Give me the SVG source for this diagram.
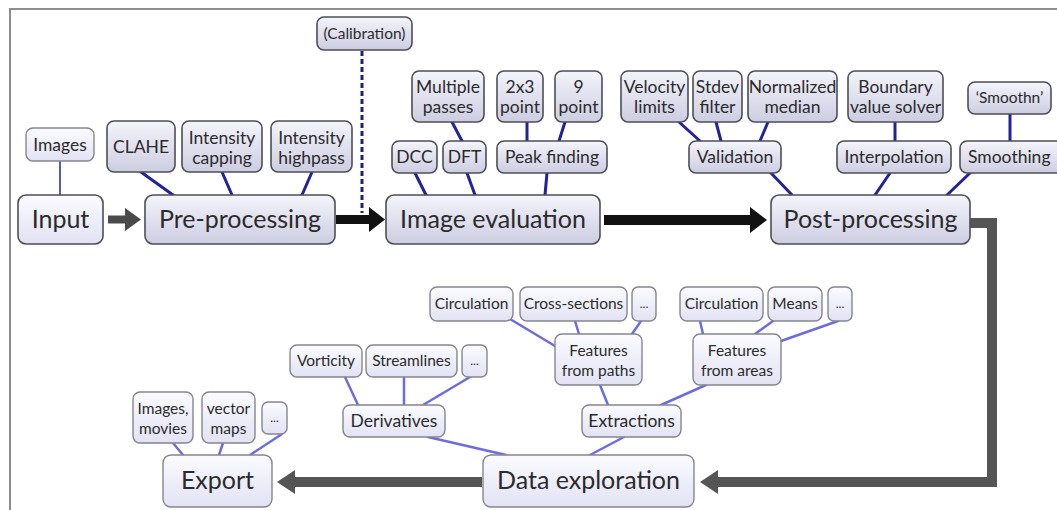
<svg xmlns="http://www.w3.org/2000/svg" width="1057" height="510" viewBox="0 0 1057 510">
<defs>
<linearGradient id="gDark" x1="0" y1="0" x2="0" y2="1"><stop offset="0" stop-color="#f4f4fb"/><stop offset="1" stop-color="#cdcde2"/></linearGradient>
<linearGradient id="gLight" x1="0" y1="0" x2="0" y2="1"><stop offset="0" stop-color="#fbfbff"/><stop offset="1" stop-color="#e2e2f4"/></linearGradient>
<style>
.n rect{fill:url(#gDark);stroke:#4e4e56;stroke-width:1.6}
.l rect{fill:url(#gLight);stroke:#85858f;stroke-width:1.4}
text{font-family:Lato,"Open Sans","Liberation Sans",sans-serif;fill:#2b2b2b;text-anchor:middle}
.big{font-size:25px}
.med{font-size:17.5px}
.sm{font-size:15.5px}
.dot{font-size:12px}
.cd{stroke:#22229a;stroke-width:3;fill:none;stroke-linecap:round}
.cl{stroke:#6c6ce0;stroke-width:2.5;fill:none;stroke-linecap:round}
</style>
</defs>
<rect width="1057" height="510" fill="#ffffff"/>
<path d="M10,510 V9 H1057" fill="none" stroke="#8e8e8e" stroke-width="2"/>

<g id="connectors">
<line class="cl" x1="60" y1="161" x2="60" y2="195" style="stroke:#5656d2;stroke-width:2"/>
<line class="cd" x1="141" y1="172" x2="173" y2="195"/>
<line class="cd" x1="222" y1="172" x2="232" y2="195"/>
<line class="cd" x1="312" y1="172" x2="302" y2="195"/>
<line class="cd" x1="452" y1="122" x2="462" y2="141"/>
<line class="cd" x1="527" y1="122" x2="527" y2="141"/>
<line class="cd" x1="565" y1="122" x2="559" y2="141"/>
<line class="cd" x1="415" y1="173" x2="426" y2="195"/>
<line class="cd" x1="467" y1="173" x2="475" y2="195"/>
<line class="cd" x1="547" y1="173" x2="545" y2="195"/>
<line class="cd" x1="679" y1="122" x2="700" y2="141"/>
<line class="cd" x1="716" y1="122" x2="721" y2="141"/>
<line class="cd" x1="768" y1="122" x2="760" y2="141"/>
<line class="cd" x1="771" y1="173" x2="792" y2="195"/>
<line class="cd" x1="895" y1="122" x2="895" y2="141"/>
<line class="cd" x1="890" y1="173" x2="875" y2="195"/>
<line class="cd" x1="1010" y1="114" x2="1010" y2="141"/>
<line class="cd" x1="970" y1="173" x2="947" y2="195"/>
<line x1="362" y1="51" x2="362" y2="213" stroke="#1e1e8c" stroke-width="3" stroke-dasharray="5 3"/>

<line class="cl" x1="173" y1="443" x2="183" y2="455"/>
<line class="cl" x1="223" y1="443" x2="219" y2="455"/>
<line class="cl" x1="282" y1="434" x2="250" y2="455"/>
<line class="cl" x1="345" y1="377" x2="358" y2="405"/>
<line class="cl" x1="404" y1="377" x2="404" y2="405"/>
<line class="cl" x1="470" y1="377" x2="423" y2="405"/>
<line class="cl" x1="428" y1="437" x2="506" y2="455"/>
<line class="cl" x1="510" y1="319" x2="555" y2="346"/>
<line class="cl" x1="575" y1="321" x2="579" y2="334"/>
<line class="cl" x1="641" y1="321" x2="632" y2="334"/>
<line class="cl" x1="700" y1="321" x2="703" y2="334"/>
<line class="cl" x1="773" y1="321" x2="755" y2="334"/>
<line class="cl" x1="838" y1="321" x2="781" y2="341"/>
<line class="cl" x1="600" y1="385" x2="608" y2="405"/>
<line class="cl" x1="706" y1="385" x2="661" y2="405"/>
<line class="cl" x1="624" y1="437" x2="590" y2="455"/>

<line x1="108" y1="219.5" x2="126" y2="219.5" stroke="#4a4a4a" stroke-width="8"/>
<polygon points="125,208 141,219.5 125,231" fill="#4a4a4a"/>
<line x1="336" y1="219.5" x2="370" y2="219.5" stroke="#111" stroke-width="9"/>
<polygon points="369,207 385,219.5 369,232" fill="#111"/>
<line x1="604" y1="220" x2="752" y2="220" stroke="#111" stroke-width="10"/>
<polygon points="750,207 767,220 750,233" fill="#111"/>
<path d="M970,223 H992 V482 H716" fill="none" stroke="#555555" stroke-width="10"/>
<polygon points="718,470 700,482 718,494" fill="#555555"/>
<line x1="482" y1="482" x2="292" y2="482" stroke="#555555" stroke-width="10"/>
<polygon points="295,470 277,482 295,494" fill="#555555"/>
</g>

<g id="n-calibration" class="n"><rect x="317" y="17" width="95" height="33" rx="7"/><text class="sm" x="364.5" y="39">(Calibration)</text></g>
<g id="n-images" class="l"><rect x="26" y="128" width="68" height="33" rx="7"/><text class="med" x="60" y="151">Images</text></g>
<g id="n-clahe" class="n"><rect x="107" y="121" width="68" height="51" rx="7"/><text class="med" x="141" y="153">CLAHE</text></g>
<g id="n-icap" class="n"><rect x="182" y="121" width="80" height="51" rx="7"/><text class="med" x="222" y="144">Intensity</text><text class="med" x="222" y="164">capping</text></g>
<g id="n-ihigh" class="n"><rect x="271" y="121" width="81" height="51" rx="7"/><text class="med" x="311.5" y="144">Intensity</text><text class="med" x="311.5" y="164">highpass</text></g>
<g id="n-input" class="n"><rect x="18" y="195" width="85" height="49" rx="8" style="fill:url(#gLight)"/><text class="big" x="60.5" y="228">Input</text></g>
<g id="n-pre" class="n"><rect x="145" y="195" width="190" height="49" rx="8"/><text class="big" x="240" y="228">Pre-processing</text></g>

<g id="n-mpass" class="n"><rect x="412" y="71" width="72" height="51" rx="7"/><text class="med" x="448" y="93">Multiple</text><text class="med" x="448" y="113">passes</text></g>
<g id="n-p2x3" class="n"><rect x="497" y="71" width="46" height="51" rx="7"/><text class="med" x="520" y="93">2x3</text><text class="med" x="520" y="113">point</text></g>
<g id="n-p9" class="n"><rect x="555" y="71" width="47" height="51" rx="7"/><text class="med" x="578.5" y="93">9</text><text class="med" x="578.5" y="113">point</text></g>
<g id="n-dcc" class="n"><rect x="392" y="141" width="45" height="32" rx="7"/><text class="med" x="414.5" y="163">DCC</text></g>
<g id="n-dft" class="n"><rect x="443" y="141" width="43" height="32" rx="7"/><text class="med" x="464.5" y="163">DFT</text></g>
<g id="n-peak" class="n"><rect x="497" y="141" width="110" height="32" rx="7"/><text class="med" x="552" y="163">Peak finding</text></g>
<g id="n-imeval" class="n"><rect x="386" y="195" width="214" height="49" rx="8"/><text class="big" x="493" y="228">Image evaluation</text></g>

<g id="n-vel" class="n"><rect x="621" y="71" width="67" height="51" rx="7"/><text class="med" x="654.5" y="93">Velocity</text><text class="med" x="654.5" y="113">limits</text></g>
<g id="n-stdev" class="n"><rect x="693" y="71" width="49" height="51" rx="7"/><text class="med" x="717.5" y="93">Stdev</text><text class="med" x="717.5" y="113">filter</text></g>
<g id="n-normmed" class="n"><rect x="748" y="71" width="89" height="51" rx="7"/><text class="med" x="792.5" y="93">Normalized</text><text class="med" x="792.5" y="113">median</text></g>
<g id="n-bvs" class="n"><rect x="848" y="71" width="95" height="51" rx="7"/><text class="med" x="895.5" y="93">Boundary</text><text class="med" x="895.5" y="113">value solver</text></g>
<g id="n-smoothn" class="n"><rect x="968" y="82" width="83" height="32" rx="7"/><text class="sm" x="1009.5" y="103">‘Smoothn’</text></g>
<g id="n-valid" class="n"><rect x="689" y="141" width="92" height="32" rx="7"/><text class="med" x="735" y="163">Validation</text></g>
<g id="n-interp" class="n"><rect x="837" y="141" width="114" height="32" rx="7"/><text class="med" x="894" y="163">Interpolation</text></g>
<g id="n-smooth" class="n"><rect x="960" y="141" width="106" height="32" rx="7"/><text class="med" x="968" y="163" style="text-anchor:start">Smoothing</text></g>
<g id="n-post" class="n"><rect x="771" y="195" width="199" height="49" rx="8"/><text class="big" x="870.5" y="228">Post-processing</text></g>

<g id="n-circ1" class="l"><rect x="430" y="287" width="83" height="34" rx="7"/><text class="sm" x="471.5" y="309">Circulation</text></g>
<g id="n-cross" class="l"><rect x="520" y="287" width="107" height="34" rx="7"/><text class="sm" x="573.5" y="309">Cross-sections</text></g>
<g id="n-dots1" class="l"><rect x="632" y="287" width="24" height="34" rx="6"/><text class="dot" x="644" y="308">...</text></g>
<g id="n-circ2" class="l"><rect x="680" y="287" width="83" height="34" rx="7"/><text class="sm" x="721.5" y="309">Circulation</text></g>
<g id="n-means" class="l"><rect x="768" y="287" width="54" height="34" rx="7"/><text class="sm" x="795" y="309">Means</text></g>
<g id="n-dots2" class="l"><rect x="828" y="287" width="24" height="34" rx="6"/><text class="dot" x="840" y="308">...</text></g>
<g id="n-fpaths" class="l"><rect x="555" y="334" width="87" height="51" rx="7"/><text class="sm" x="598.5" y="356">Features</text><text class="sm" x="598.5" y="376">from paths</text></g>
<g id="n-fareas" class="l"><rect x="693" y="334" width="88" height="51" rx="7"/><text class="sm" x="737" y="356">Features</text><text class="sm" x="737" y="376">from areas</text></g>
<g id="n-vort" class="l"><rect x="290" y="345" width="72" height="32" rx="7"/><text class="sm" x="326" y="366">Vorticity</text></g>
<g id="n-stream" class="l"><rect x="366" y="345" width="91" height="32" rx="7"/><text class="sm" x="411.5" y="366">Streamlines</text></g>
<g id="n-dots3" class="l"><rect x="462" y="345" width="25" height="32" rx="6"/><text class="dot" x="474.5" y="365">...</text></g>
<g id="n-deriv" class="l"><rect x="343" y="405" width="102" height="32" rx="7"/><text class="med" x="394" y="427">Derivatives</text></g>
<g id="n-extr" class="l"><rect x="582" y="405" width="99" height="32" rx="7"/><text class="med" x="631.5" y="427">Extractions</text></g>
<g id="n-imgmov" class="l"><rect x="133" y="392" width="60" height="51" rx="7"/><text class="sm" x="163" y="414">Images,</text><text class="sm" x="163" y="434">movies</text></g>
<g id="n-vmaps" class="l"><rect x="202" y="392" width="53" height="51" rx="7"/><text class="sm" x="228.5" y="414">vector</text><text class="sm" x="228.5" y="434">maps</text></g>
<g id="n-dots4" class="l"><rect x="262" y="402" width="25" height="32" rx="6"/><text class="dot" x="274.5" y="422">...</text></g>
<g id="n-export" class="l"><rect x="163" y="455" width="109" height="52" rx="8"/><text class="big" x="217.5" y="489">Export</text></g>
<g id="n-dataexp" class="l"><rect x="483" y="455" width="211" height="52" rx="8"/><text class="big" x="588.5" y="489">Data exploration</text></g>
</svg>
